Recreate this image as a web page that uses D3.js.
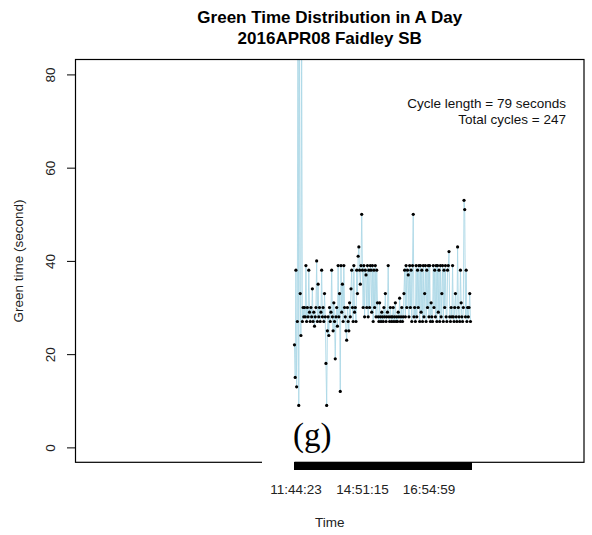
<!DOCTYPE html>
<html>
<head>
<meta charset="utf-8">
<script src="https://cdn.jsdelivr.net/npm/d3@7"></script>
<style>
  html, body { margin: 0; padding: 0; background: #fff; }
  svg { display: block; font-family: "Liberation Sans", Arial, sans-serif; }
</style>
</head>
<body>
<svg id="chart" width="592" height="535"></svg>
<script>
// Green time (s) of each signal cycle, in cycle order
const greenTime = [
  22, 15, 38, 13, 27, 118, 9, 96, 33, 24, 88, 27, 30, 28,
  30, 28, 39, 27, 30, 28, 38, 29, 27, 30, 28, 34, 27, 29, 26, 28, 30, 40, 27, 35, 28, 30, 27, 29, 38, 28,
  30, 27, 33, 28, 18, 9, 25, 28, 24, 30, 27, 29, 38, 28, 25, 31, 27, 19, 28, 30, 26, 39, 28, 33, 12, 39, 29, 35, 27, 39, 30, 28, 25, 23, 30,
  27, 25, 31, 28, 34, 38, 30, 27, 39, 29, 30, 27, 38, 33, 41, 43, 38, 35, 39, 50,
  38, 30, 39, 28, 38, 37, 30, 39, 28, 38, 30, 39, 38, 29, 39, 27, 38, 30, 39, 28, 38, 31, 28, 27, 31, 28, 27, 29, 28, 27, 30, 28, 33, 27, 28, 29, 39,
  28, 27, 30, 28, 27, 28, 30, 27, 28, 31, 27, 28, 27, 29, 28, 32, 27, 28, 30, 27, 28, 33, 38, 28, 39, 30, 38, 37, 28, 39, 30, 38, 27, 39, 50,
  28, 30, 27, 39, 28, 38, 30, 39, 27, 39, 29, 38, 27, 39, 28, 33, 39, 27, 38, 30, 39, 28, 39, 27, 31, 28, 27, 39, 30, 38, 28, 39, 27, 39, 29, 38, 27, 39, 28, 33, 39, 27, 38, 30, 39, 28, 27, 38, 39, 42, 28, 27, 30, 28, 39,
  28, 27, 30, 33, 28, 27, 43, 30, 28, 27, 38, 31, 28, 27, 30, 53, 51, 28, 38, 27, 30, 28, 30, 33, 27
];

// Cycle numbers that carry a start-time label on the time axis
const timeTickCycles = [1, 94, 187];
const timeTickLabels = ["11:44:23", "14:51:15", "16:54:59"];
const yTicks = [0, 20, 40, 60, 80];

const titleLines = ["Green Time Distribution in A Day", "2016APR08 Faidley SB"];
const noteLines = ["Cycle length = 79 seconds", "Total cycles = " + greenTime.length];

const svg = d3.select("#chart");
const plot = { left: 75.5, right: 584, top: 59.5, bottom: 462.3 };

const cycles = d3.range(1, greenTime.length + 1);
const x = d3.scaleLinear().domain([-305.1, 405.7]).range([plot.left, plot.right]);
const y = d3.scaleLinear().domain([-3.2, 83.2]).range([plot.bottom, plot.top]);

// clip the series to the plotting region
svg.append("defs").append("clipPath").attr("id", "plotClip")
  .append("rect")
  .attr("x", plot.left).attr("y", plot.top)
  .attr("width", plot.right - plot.left).attr("height", plot.bottom - plot.top);

const series = svg.append("g").attr("clip-path", "url(#plotClip)");

const line = d3.line()
  .x((d, i) => x(cycles[i]))
  .y(d => y(d));

series.append("path")
  .datum(greenTime)
  .attr("fill", "none")
  .attr("stroke", "#add8e6")
  .attr("stroke-width", 0.9)
  .attr("d", line);

series.selectAll("circle")
  .data(greenTime)
  .join("circle")
  .attr("cx", (d, i) => x(cycles[i]))
  .attr("cy", d => y(d))
  .attr("r", 1.6)
  .attr("fill", "#000");

// plot frame
svg.append("rect")
  .attr("x", plot.left).attr("y", plot.top)
  .attr("width", plot.right - plot.left).attr("height", plot.bottom - plot.top)
  .attr("fill", "none").attr("stroke", "#000").attr("stroke-width", 1.2);

// y axis
const yAxis = d3.axisLeft(y).tickValues(yTicks).tickSize(8.5).tickPadding(0).tickFormat(d3.format("d"));
const gy = svg.append("g").attr("transform", `translate(${plot.left},0)`).call(yAxis);
gy.select(".domain").attr("d", `M0,${y(0)}V${y(80)}`).attr("stroke", "#000");
gy.selectAll(".tick line").attr("stroke", "#000");
gy.selectAll(".tick text")
  .attr("font-family", "Liberation Sans, Arial, sans-serif")
  .attr("font-size", 13.5)
  .attr("fill", "#222")
  .attr("x", null).attr("dy", null)
  .attr("text-anchor", "middle")
  .attr("transform", "translate(-20.5,0) rotate(-90)");

// cover strip under the panel tag
svg.append("rect")
  .attr("x", 262).attr("y", 455)
  .attr("width", 32.5).attr("height", 14)
  .attr("fill", "#fff");

// time axis: a tick at every cycle, labels where they fit
const xAxis = d3.axisBottom(x).tickValues(cycles).tickSize(8).tickFormat("");
const gx = svg.append("g").attr("transform", `translate(0,${plot.bottom})`)
  .attr("shape-rendering", "crispEdges")
  .call(xAxis);
gx.select(".domain").attr("d", `M${x(1)},0H${x(greenTime.length)}`).attr("stroke", "#000");
gx.selectAll(".tick line").attr("stroke", "#000").attr("stroke-width", 1.5);

svg.append("g").selectAll("text")
  .data(timeTickCycles)
  .join("text")
  .attr("x", d => x(d) + 1.5)
  .attr("y", 493.5)
  .attr("text-anchor", "middle")
  .attr("font-size", 13.5)
  .attr("fill", "#222")
  .text((d, i) => timeTickLabels[i]);

// titles
svg.append("g").selectAll("text")
  .data(titleLines)
  .join("text")
  .attr("x", (plot.left + plot.right) / 2)
  .attr("y", (d, i) => 23 + i * 20.5)
  .attr("text-anchor", "middle")
  .attr("font-size", 17)
  .attr("font-weight", "bold")
  .text(d => d);

svg.append("text")
  .attr("x", (plot.left + plot.right) / 2)
  .attr("y", 527)
  .attr("text-anchor", "middle")
  .attr("font-size", 13.5)
  .attr("fill", "#222")
  .text("Time");

svg.append("text")
  .attr("transform", `translate(23,${(plot.top + plot.bottom) / 2}) rotate(-90)`)
  .attr("text-anchor", "middle")
  .attr("font-size", 13.5)
  .attr("fill", "#222")
  .text("Green time (second)");

// summary note
svg.append("g").selectAll("text")
  .data(noteLines)
  .join("text")
  .attr("x", 566)
  .attr("y", (d, i) => 107.5 + i * 16)
  .attr("text-anchor", "end")
  .attr("font-size", 13.5)
  .attr("fill", "#111")
  .text(d => d);

// panel tag
svg.append("text")
  .attr("x", 293)
  .attr("y", 446)
  .attr("font-family", "Liberation Serif, Times New Roman, serif")
  .attr("font-size", 33)
  .attr("fill", "#000")
  .text("(g)");
</script>
</body>
</html>
